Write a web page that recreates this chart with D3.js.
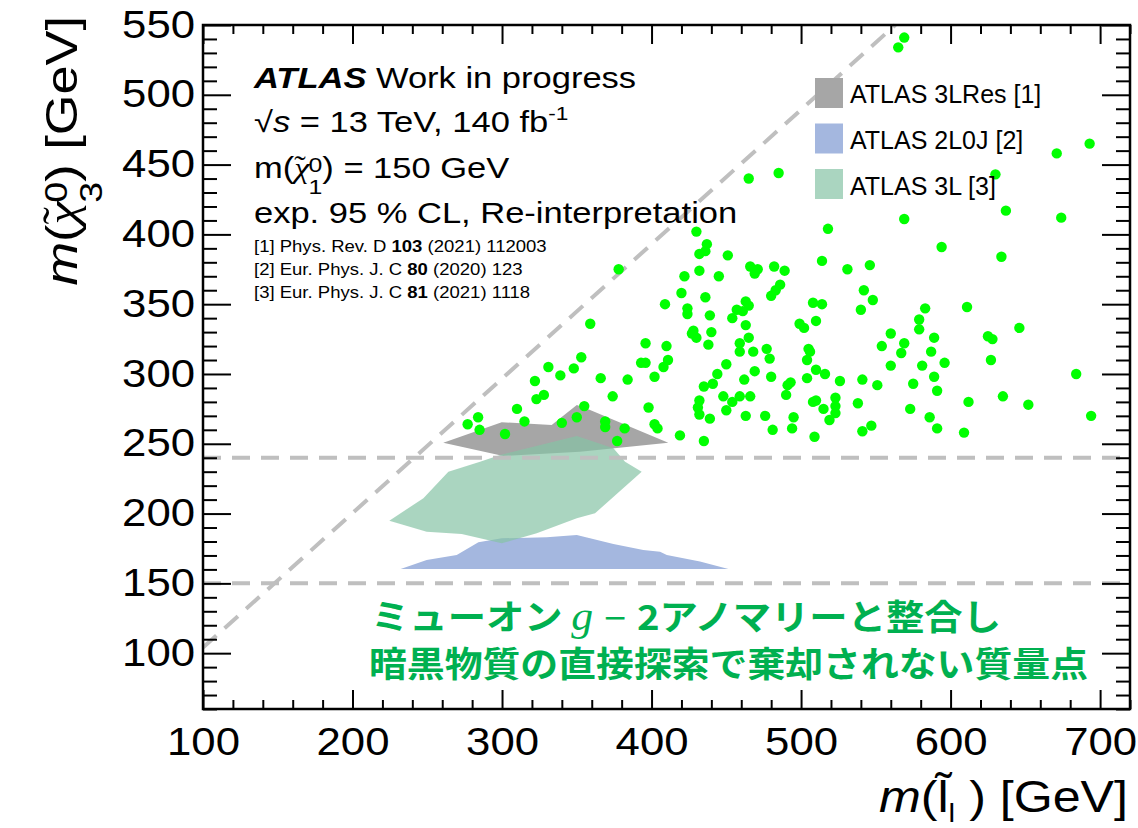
<!DOCTYPE html>
<html>
<head>
<meta charset="utf-8">
<script src="https://cdn.jsdelivr.net/npm/d3@7"></script>
<style>
  html, body { margin: 0; padding: 0; background: #fff; }
  svg { display: block; font-family: "Liberation Sans", Arial, sans-serif; }
</style>
</head>
<body>
<div id="chart"></div>
<script>
// axis ticks
const xMajorTicks = [100, 200, 300, 400, 500, 600, 700];
const yMajorTicks = [100, 150, 200, 250, 300, 350, 400, 450, 500, 550];

// scan points (m_slepton, m_chi3) in GeV
const mSlepton = [
  430, 437, 436, 432, 451, 378, 432, 422, 445, 420, 436, 409, 424, 424, 439, 359, 428, 440, 427, 430,
  438, 396, 410, 353, 411, 331, 348, 393, 396, 408, 450, 339, 322, 366, 384, 402, 444, 435, 441, 323,
  328, 374, 448, 432, 431, 310, 398, 450, 432, 355, 284, 277, 285, 315, 340, 350, 369, 369, 382, 402,
  404, 439, 302, 377, 419, 435,
  671, 630, 465, 485, 637, 674, 569, 518, 594, 634, 466, 471, 469, 482, 489, 514, 531, 546, 486, 483,
  480, 463, 465, 457, 461, 454, 508, 514, 542, 548, 540, 583, 611, 510, 499, 502, 463, 579, 579, 646,
  560, 465, 459, 459, 468, 477, 479, 505, 506, 504, 554, 569, 567, 589, 587, 625, 628, 560, 581, 596,
  627, 510, 516, 469, 462, 480, 504, 526, 541, 551, 575, 589, 591, 684, 493, 491, 490, 459, 466, 454,
  508, 510, 515, 523, 523, 523, 519, 538, 573, 612, 635, 652, 694, 463, 476, 495, 481, 494, 509, 541,
  547, 586, 591, 609,
  569, 565, 693
];
const mChi3 = [
  402, 393, 388, 386, 385, 375, 374, 370, 370, 358, 355, 350, 347, 343, 342, 336, 331, 330, 329, 326,
  321, 322, 320, 312, 310, 305, 304, 308, 308, 305, 307, 299, 295, 297, 296, 298, 300, 291, 293, 282,
  285, 284, 284, 281, 276, 275, 276, 274, 271, 277, 269, 264, 260, 266, 265, 269, 266, 262, 261, 264,
  261, 268, 257, 252, 256, 252,
  458, 443, 440, 444, 417, 412, 411, 404, 391, 384, 377, 375, 372, 377, 374, 381, 375, 378, 364, 360,
  356, 352, 349, 346, 345, 340, 351, 350, 360, 353, 346, 347, 348, 338, 336, 333, 335, 339, 332, 333,
  329, 326, 322, 316, 316, 318, 311, 318, 316, 310, 320, 322, 315, 326, 316, 327, 325, 306, 306, 308,
  310, 303, 300, 302, 296, 298, 297, 295, 296, 292, 293, 298, 288, 300, 294, 292, 285, 284, 284, 280,
  280, 281, 275, 283, 277, 272, 267, 279, 275, 280, 284, 278, 270, 270, 270, 269, 260, 261, 255, 259,
  263, 269, 261, 258,
  541, 534, 465
];

// exclusion contours
const res3LX = [260.7, 299.8, 333.2, 350.0, 357.7, 411.2, 352.2, 300.9];
const res3LY = [250.8, 265.4, 263.5, 277.8, 274.7, 250.8, 244.3, 241.3];

const l2J0X = [232.2, 249.6, 269.7, 284.2, 299.8, 329.9, 350.0, 374.5, 394.5, 405.7, 410.2, 432.4, 451.4];
const l2J0Y = [160.3, 166.8, 170.3, 179.4, 182.3, 183.0, 184.7, 178.2, 173.9, 172.7, 170.3, 165.6, 160.3];

const l3X = [224.6, 247.4, 264.1, 285.3, 298.7, 350.0, 374.5, 382.3, 393.4, 362.2, 350.0, 323.2, 299.8, 273.0, 249.6];
const l3Y = [194.9, 211.0, 230.0, 237.2, 242.0, 255.6, 246.8, 237.2, 230.0, 200.2, 196.6, 185.9, 178.7, 185.4, 187.0];

// reference lines
const diagX = [100, 563];
const diagY = [104, 550];
const hLines = [240, 150];

const legendLabels = ["ATLAS 3LRes [1]", "ATLAS 2L0J [2]", "ATLAS 3L [3]"];
const references = [
  ["[1] Phys. Rev. D ", "103", " (2021) 112003"],
  ["[2] Eur. Phys. J. C ", "80", " (2020) 123"],
  ["[3] Eur. Phys. J. C ", "81", " (2021) 1118"]
];

const W = 1138, H = 828;
const frame = { left: 203, right: 1130, top: 25, bottom: 709 };
const wide = 1.19; // text in the source is drawn wider than Liberation Sans

const svg = d3.select("#chart").append("svg")
  .attr("width", W)
  .attr("height", H);

const x = d3.scaleLinear().domain([100, 720]).range([frame.left, frame.right]);
const y = d3.scaleLinear().domain([60, 550]).range([frame.bottom, frame.top]);

// contours
const area = svg.append("g");
const poly = (xs, ys) => d3.line().x(d => x(d[0])).y(d => y(d[1])).curve(d3.curveLinearClosed)(d3.zip(xs, ys));
area.append("path").attr("d", poly(res3LX, res3LY)).attr("fill", "#a6a6a6");
area.append("path").attr("d", poly(l2J0X, l2J0Y)).attr("fill", "#a4b7df");
area.append("path").attr("d", poly(l3X, l3Y)).attr("fill", "rgb(134,195,165)").attr("fill-opacity", 0.7);

// dashed reference lines
const dash = { stroke: "#bfbfbf", width: 4, array: "18,11" };
svg.append("line")
  .attr("x1", x(diagX[0])).attr("y1", y(diagY[0]))
  .attr("x2", x(diagX[1])).attr("y2", y(diagY[1]))
  .attr("stroke", dash.stroke).attr("stroke-width", dash.width).attr("stroke-dasharray", dash.array);
hLines.forEach(v => {
  svg.append("line")
    .attr("x1", x(100)).attr("x2", x(720))
    .attr("y1", y(v)).attr("y2", y(v))
    .attr("stroke", dash.stroke).attr("stroke-width", dash.width).attr("stroke-dasharray", dash.array);
});

// scan points
svg.append("g").selectAll("circle")
  .data(d3.zip(mSlepton, mChi3))
  .join("circle")
  .attr("cx", d => x(d[0]))
  .attr("cy", d => y(d[1]))
  .attr("r", 5.2)
  .attr("fill", "#00ff00");

// axes, ROOT style ticks on all sides pointing in
const xMinor = d3.range(100, 721, 20).filter(v => !xMajorTicks.includes(v));
const yMinor = d3.range(60, 551, 10).filter(v => !yMajorTicks.includes(v));

function addAxis(axis, tx, ty, labels) {
  const g = svg.append("g").attr("transform", `translate(${tx},${ty})`).call(axis);
  g.select(".domain").remove();
  g.selectAll("line").attr("stroke", "#000").attr("stroke-width", 2);
  if (!labels) g.selectAll("text").remove();
  return g;
}

function stretch(sel, k) {
  sel.each(function () {
    const len = this.getComputedTextLength();
    d3.select(this).attr("textLength", len * k).attr("lengthAdjust", "spacingAndGlyphs");
  });
}

const xb = addAxis(d3.axisBottom(x).tickValues(xMajorTicks).tickSize(-19).tickPadding(19).tickFormat(d3.format("d")), 0, frame.bottom, true);
addAxis(d3.axisBottom(x).tickValues(xMinor).tickSize(-9).tickFormat(""), 0, frame.bottom, false);
addAxis(d3.axisTop(x).tickValues(xMajorTicks).tickSize(-19).tickFormat(""), 0, frame.top, false);
addAxis(d3.axisTop(x).tickValues(xMinor).tickSize(-9).tickFormat(""), 0, frame.top, false);
const yl = addAxis(d3.axisLeft(y).tickValues(yMajorTicks).tickSize(-28).tickPadding(8).tickFormat(d3.format("d")), frame.left, 0, true);
addAxis(d3.axisLeft(y).tickValues(yMinor).tickSize(-14).tickFormat(""), frame.left, 0, false);
addAxis(d3.axisRight(y).tickValues(yMajorTicks).tickSize(-28).tickFormat(""), frame.right, 0, false);
addAxis(d3.axisRight(y).tickValues(yMinor).tickSize(-14).tickFormat(""), frame.right, 0, false);

[xb, yl].forEach(g => {
  const t = g.selectAll("text").attr("font-size", 38).attr("fill", "#000").attr("font-family", "Liberation Sans");
  stretch(t, 1.15);
});

svg.append("rect")
  .attr("x", frame.left).attr("y", frame.top)
  .attr("width", frame.right - frame.left).attr("height", frame.bottom - frame.top)
  .attr("fill", "none").attr("stroke", "#000").attr("stroke-width", 2.5);

// helper: tilde-chi with stacked super/subscript, returns dy back to baseline
function chiTilde(t, sup, sub, size) {
  t.append("tspan").attr("font-family", "Liberation Serif").attr("font-style", "italic").text("χ");
  t.append("tspan").attr("font-family", "Liberation Serif")
    .attr("dx", -size * 0.44).attr("dy", -size * 0.08).text("\u02DC");
  const s = size * 0.72;
  const w = s * 0.556;
  t.append("tspan").attr("font-size", s).attr("dx", size * 0.08).attr("dy", -size * 0.14).text(sup);
  t.append("tspan").attr("font-size", s).attr("dx", -w).attr("dy", size * 0.78).text(sub);
  return size * 0.56;
}

// axis titles
const yt = svg.append("text")
  .attr("transform", `translate(77,16) rotate(-90) scale(${wide},1)`)
  .attr("text-anchor", "end")
  .attr("font-size", 44);
yt.append("tspan").attr("font-style", "italic").text("m");
yt.append("tspan").text("(");
let back = chiTilde(yt, "0", "3", 44);
yt.append("tspan").attr("dy", -back).text(") [GeV]");

const xt = svg.append("text")
  .attr("transform", `translate(1128,812) scale(1.14,1)`)
  .attr("text-anchor", "end")
  .attr("font-size", 44);
xt.append("tspan").attr("font-style", "italic").text("m");
xt.append("tspan").text("(l\u0303");
xt.append("tspan").attr("font-size", 26).attr("dy", 10).text("l");
xt.append("tspan").attr("dy", -10).text(" ) [GeV]");

// ATLAS label block
const info = svg.append("g")
  .attr("transform", `translate(254,0) scale(${wide},1)`)
  .attr("font-size", 29).attr("fill", "#000");
const l1 = info.append("text").attr("x", 0).attr("y", 88);
l1.append("tspan").attr("font-weight", "bold").attr("font-style", "italic").text("ATLAS");
l1.append("tspan").text(" Work in progress");

const l2 = info.append("text").attr("x", 0).attr("y", 132);
l2.append("tspan").text("√");
l2.append("tspan").attr("font-style", "italic").text("s");
l2.append("tspan").text(" = 13 TeV, 140 fb");
l2.append("tspan").attr("font-size", 19).attr("dy", -12).text("-1");

const l3 = info.append("text").attr("x", 0).attr("y", 178);
l3.append("tspan").text("m(");
back = chiTilde(l3, "0", "1", 29);
l3.append("tspan").attr("dy", -back).text(") = 150 GeV");

info.append("text").attr("x", 0).attr("y", 223).text("exp. 95 % CL, Re-interpretation");

const refs = svg.append("g")
  .attr("transform", `translate(254,0) scale(1.09,1)`)
  .attr("font-size", 17).attr("fill", "#000");
references.forEach((r, i) => {
  const t = refs.append("text").attr("x", 0).attr("y", 252 + i * 23);
  t.append("tspan").text(r[0]);
  t.append("tspan").attr("font-weight", "bold").text(r[1]);
  t.append("tspan").text(r[2]);
});

// legend
const legendFill = ["#a6a6a6", "#a4b7df", "rgb(134,195,165)"];
const legendOpacity = [1, 1, 0.7];
const lg = svg.append("g");
legendLabels.forEach((lab, i) => {
  lg.append("rect")
    .attr("x", 815).attr("y", 78 + i * 45.5)
    .attr("width", 28).attr("height", 30)
    .attr("fill", legendFill[i]).attr("fill-opacity", legendOpacity[i]);
  lg.append("text")
    .attr("x", 850).attr("y", 103 + i * 46)
    .attr("font-size", 25)
    .text(lab);
});

// Japanese annotation
const jp = svg.append("g")
  .attr("font-family", "'Noto Sans CJK JP', sans-serif")
  .attr("font-weight", "bold")
  .attr("font-size", 35)
  .attr("fill", "#00b050");
const j1 = jp.append("text").attr("x", 371).attr("y", 630)
  .attr("textLength", 630).attr("lengthAdjust", "spacingAndGlyphs");
j1.append("tspan").text("ミューオン ");
j1.append("tspan").attr("font-family", "'Liberation Serif', serif").attr("font-style", "italic").attr("font-weight", "normal").attr("font-size", 40).text("g");
j1.append("tspan").attr("font-family", "'Liberation Sans'").attr("font-weight", "normal").text(" − ");
j1.append("tspan").text("2アノマリーと整合し");
jp.append("text").attr("x", 369).attr("y", 677)
  .attr("textLength", 719).attr("lengthAdjust", "spacingAndGlyphs")
  .text("暗黒物質の直接探索で棄却されない質量点");
</script>
</body>
</html>
